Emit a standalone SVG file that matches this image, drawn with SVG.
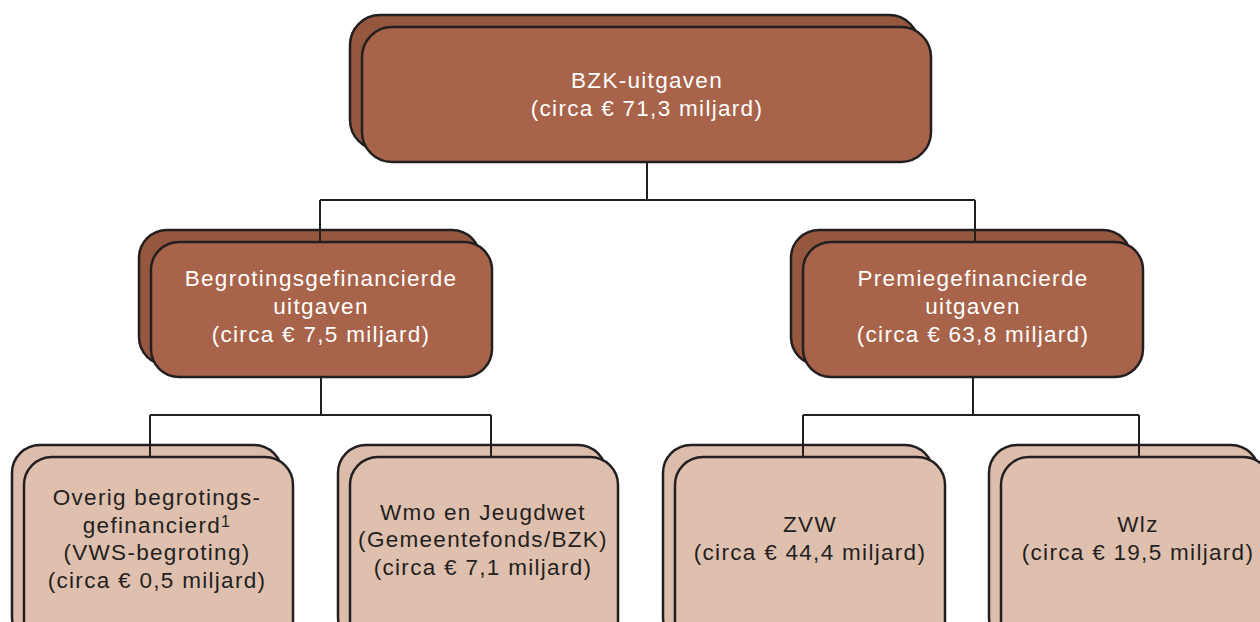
<svg xmlns="http://www.w3.org/2000/svg" width="1260" height="622" viewBox="0 0 1260 622">
<style>
.dk{fill:#A8644A;stroke:#231F20;stroke-width:2.5}
.dkb{fill:#95583F;stroke:#231F20;stroke-width:2.5}
.lt{fill:#DFC0AF;stroke:#231F20;stroke-width:2.5}
.ltb{fill:#DCBDAC;stroke:#231F20;stroke-width:2.5}
.tw{font-family:"Liberation Sans",Arial,sans-serif;font-size:22.5px;fill:#ffffff;text-anchor:middle;letter-spacing:1.3px}
.td{font-family:"Liberation Sans",Arial,sans-serif;font-size:22.5px;fill:#231F20;text-anchor:middle;letter-spacing:1.3px}
.ln{fill:none;stroke:#231F20;stroke-width:2}
</style>
<rect width="1260" height="622" fill="#ffffff"/>
<g id="n-top-back"><rect class="dkb" x="350" y="15" width="569" height="135" rx="30"/></g>
<g id="n-left-back"><rect class="dkb" x="139" y="230" width="341" height="135" rx="28"/></g>
<g id="n-right-back"><rect class="dkb" x="791" y="230" width="340" height="135" rx="28"/></g>
<g id="n-b1-back"><rect class="ltb" x="12" y="445" width="270" height="200" rx="28"/></g>
<g id="n-b2-back"><rect class="ltb" x="338" y="445" width="268" height="200" rx="28"/></g>
<g id="n-b3-back"><rect class="ltb" x="663" y="445" width="270" height="200" rx="28"/></g>
<g id="n-b4-back"><rect class="ltb" x="989" y="445" width="270" height="200" rx="28"/></g>
<g id="connectors">
<path class="ln" d="M647,162 V200 M320,200 H975 M320,200 V242 M975,200 V242"/>
<path class="ln" d="M321,377 V415 M150,415 H491 M150,415 V457 M491,415 V457"/>
<path class="ln" d="M973,377 V415 M803,415 H1139 M803,415 V457 M1139,415 V457"/>
</g>
<g id="n-top">
<rect class="dk" x="362" y="27" width="569" height="135" rx="30"/>
<text class="tw" x="647" y="88">BZK-uitgaven</text>
<text class="tw" x="647" y="116">(circa € 71,3 miljard)</text>
</g>
<g id="n-left">
<rect class="dk" x="151" y="242" width="341" height="135" rx="28"/>
<text class="tw" x="321" y="286">Begrotingsgefinancierde</text>
<text class="tw" x="321" y="314">uitgaven</text>
<text class="tw" x="321" y="342">(circa € 7,5 miljard)</text>
</g>
<g id="n-right">
<rect class="dk" x="803" y="242" width="340" height="135" rx="28"/>
<text class="tw" x="973" y="286">Premiegefinancierde</text>
<text class="tw" x="973" y="314">uitgaven</text>
<text class="tw" x="973" y="342">(circa € 63,8 miljard)</text>
</g>
<g id="n-b1">
<rect class="lt" x="24" y="457" width="269" height="200" rx="28"/>
<text class="td" x="157" y="505">Overig begrotings-</text>
<text class="td" x="157" y="533">gefinancierd<tspan font-size="16" dy="-6">1</tspan></text>
<text class="td" x="157" y="560">(VWS-begroting)</text>
<text class="td" x="157" y="588">(circa € 0,5 miljard)</text>
</g>
<g id="n-b2">
<rect class="lt" x="350" y="457" width="268" height="200" rx="28"/>
<text class="td" x="483" y="520">Wmo en Jeugdwet</text>
<text class="td" x="483" y="547">(Gemeentefonds/BZK)</text>
<text class="td" x="483" y="575">(circa € 7,1 miljard)</text>
</g>
<g id="n-b3">
<rect class="lt" x="675" y="457" width="270" height="200" rx="28"/>
<text class="td" x="810" y="532">ZVW</text>
<text class="td" x="810" y="560">(circa € 44,4 miljard)</text>
</g>
<g id="n-b4">
<rect class="lt" x="1001" y="457" width="270" height="200" rx="28"/>
<text class="td" x="1138" y="532">Wlz</text>
<text class="td" x="1138" y="560">(circa € 19,5 miljard)</text>
</g>
</svg>
